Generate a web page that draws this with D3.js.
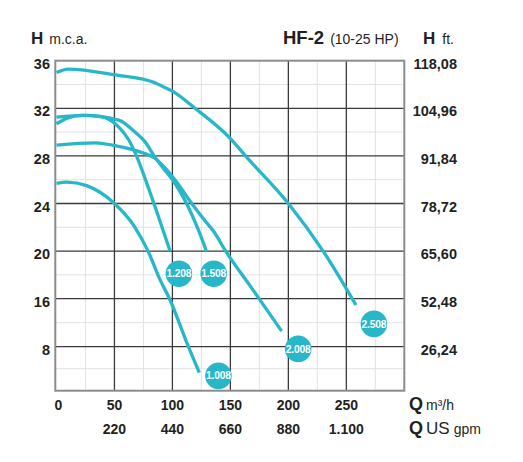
<!DOCTYPE html>
<html>
<head>
<meta charset="utf-8">
<script src="https://cdn.jsdelivr.net/npm/d3@7"></script>
<style>
  html, body { margin: 0; padding: 0; background: #fff; }
  svg { display: block; }
  text { font-family: "Liberation Sans", Arial, Helvetica, sans-serif; fill: #231f20; }
</style>
</head>
<body>
<svg id="chart" width="523" height="462"></svg>
<script>
// ---- data (Q in m3/h, H in m.c.a.) ----
const models = ["1.008", "1.208", "1.508", "2.008", "2.508"];
const q1008 = [0, 9, 26, 50, 67, 79, 89.3, 97.5, 113.8, 123.2];
const h1008 = [25.7, 25.8, 25.5, 24.0, 22.1, 20.0, 17.6, 16.0, 8.0, 3.3];
const q1208 = [0, 10, 22, 38, 54, 62, 69, 79, 89, 98];
const h1208 = [30.7, 31.2, 31.4, 31.3, 30.4, 29.4, 28.0, 25.4, 22.6, 20.0];
const q1508 = [0, 24.8, 53.6, 67.7, 76.3, 84.9, 93.5, 102.2, 113.7, 122.3, 129.5];
const h1508 = [31.25, 31.4, 31.0, 30.0, 29.2, 27.9, 26.8, 25.7, 23.7, 21.8, 19.95];
const q2008 = [0, 33.2, 53.6, 70, 84.9, 102.2, 113.7, 125.2, 136.7, 145.3, 166.9, 194.2];
const h2008 = [28.9, 29.1, 28.8, 28.4, 27.8, 26.0, 24.4, 22.9, 21.5, 20.1, 17.1, 10.6];
const q2508 = [0, 10.2, 51, 83.5, 89, 100.7, 119.5, 149.6, 164, 200, 230, 258.3];
const h2508 = [35.0, 35.3, 34.8, 34.2, 33.95, 33.4, 32.0, 29.5, 27.9, 24.0, 20.0, 14.95];
const labelQ = [139.7, 105.6, 135.6, 208.5, 273.8];
const labelH = [2.7, 18.1, 18.1, 7.6, 11.8];

const xTicks = [0, 50, 100, 150, 200, 250];
const xMinor = [25, 75, 125, 175, 225, 275];
const gpmTicks = [220, 440, 660, 880, 1100];
const gpmLabels = ["220", "440", "660", "880", "1.100"];
const yTicks = [36, 32, 28, 24, 20, 16, 8];
const yMinor = [34, 30, 26, 22, 18, 12, 4];
const ftLabels = ["118,08", "104,96", "91,84", "78,72", "65,60", "52,48", "26,24"];

const seriesQ = [q1008, q1208, q1508, q2008, q2508];
const seriesH = [h1008, h1208, h1508, h2008, h2508];

// ---- layout ----
const L = 55.3, R = 404.3, T = 60.7, B = 390.7;
const color = "#27b7c9";
const svg = d3.select("#chart");

const x = d3.scaleLinear().domain([-1, 300]).range([L, R]);
const y = d3.scaleLinear().domain([0, 8, 16, 36]).range([B, 346.7, 298.7, T]);

// minor grid
const g = svg.append("g");
g.selectAll("line.vm").data(xMinor).join("line")
  .attr("x1", d => x(d)).attr("x2", d => x(d)).attr("y1", T).attr("y2", B)
  .attr("stroke", "#e2e2e2").attr("stroke-width", 1);
g.selectAll("line.hm").data(yMinor).join("line")
  .attr("y1", d => y(d)).attr("y2", d => y(d)).attr("x1", L).attr("x2", R)
  .attr("stroke", "#e2e2e2").attr("stroke-width", 1);
// major grid
g.selectAll("line.vM").data(xTicks.slice(1)).join("line")
  .attr("x1", d => x(d)).attr("x2", d => x(d)).attr("y1", T).attr("y2", B)
  .attr("stroke", "#3a3a3a").attr("stroke-width", 1.3);
g.selectAll("line.hM").data(yTicks.slice(1)).join("line")
  .attr("y1", d => y(d)).attr("y2", d => y(d)).attr("x1", L).attr("x2", R)
  .attr("stroke", "#3a3a3a").attr("stroke-width", 1.3);
// border
svg.append("rect").attr("x", L).attr("y", T).attr("width", R - L).attr("height", B - T)
  .attr("fill", "none").attr("stroke", "#8c8c8c").attr("stroke-width", 2);

// curves
const line = d3.line().curve(d3.curveMonotoneX)
  .x(d => x(d[0])).y(d => y(d[1]));
seriesQ.forEach((qs, i) => {
  const pts = qs.map((q, j) => [q, seriesH[i][j]]);
  svg.append("path").datum(pts).attr("d", line)
    .attr("fill", "none").attr("stroke", color).attr("stroke-width", 3.3);
});

// model badges
models.forEach((m, i) => {
  const cx = x(labelQ[i]), cy = y(labelH[i]);
  svg.append("circle").attr("cx", cx).attr("cy", cy).attr("r", 13.3).attr("fill", color);
  svg.append("text").attr("x", cx).attr("y", cy + 3.6).attr("text-anchor", "middle")
    .attr("font-size", 10.3).attr("font-weight", "bold").style("fill", "#fff")
    .attr("letter-spacing", -0.2).text(m);
});

// left axis labels
svg.selectAll("text.yl").data(yTicks).join("text")
  .attr("x", 50).attr("y", d => y(d) + 8).attr("text-anchor", "end")
  .attr("font-size", 14.5).attr("font-weight", "bold").text(d => d);
// right axis labels
svg.selectAll("text.yr").data(yTicks).join("text")
  .attr("x", 457).attr("y", d => y(d) + 8).attr("text-anchor", "end")
  .attr("font-size", 14.5).attr("font-weight", "bold").text((d, i) => ftLabels[i]);
// bottom labels
svg.selectAll("text.xl").data(xTicks).join("text")
  .attr("x", d => x(d) + (d === 0 ? 2 : 0)).attr("y", 410).attr("text-anchor", "middle")
  .attr("font-size", 14).attr("font-weight", "bold").text(d => d);
svg.selectAll("text.gl").data(gpmTicks).join("text")
  .attr("x", d => x(d / 4.4)).attr("y", 433.5).attr("text-anchor", "middle")
  .attr("font-size", 14).attr("font-weight", "bold").text((d, i) => gpmLabels[i]);

// unit labels
const q1 = svg.append("text").attr("x", 409).attr("y", 410);
q1.append("tspan").attr("font-size", 18).attr("font-weight", "bold").text("Q");
q1.append("tspan").attr("font-size", 14).attr("dx", 3).text("m³/h");
const q2 = svg.append("text").attr("x", 409).attr("y", 433.5);
q2.append("tspan").attr("font-size", 18).attr("font-weight", "bold").text("Q");
q2.append("tspan").attr("font-size", 17).attr("dx", 3).text("US");
q2.append("tspan").attr("font-size", 14).attr("dx", 4).text("gpm");

// header
const h1 = svg.append("text").attr("x", 31).attr("y", 44);
h1.append("tspan").attr("font-size", 17).attr("font-weight", "bold").text("H");
h1.append("tspan").attr("font-size", 14).attr("dx", 6).text("m.c.a.");
const h2 = svg.append("text").attr("x", 283).attr("y", 44);
h2.append("tspan").attr("font-size", 18.5).attr("font-weight", "bold").text("HF-2");
h2.append("tspan").attr("font-size", 14).attr("dx", 6).text("(10-25 HP)");
const h3 = svg.append("text").attr("x", 423).attr("y", 44);
h3.append("tspan").attr("font-size", 17).attr("font-weight", "bold").text("H");
h3.append("tspan").attr("font-size", 14).attr("dx", 7).text("ft.");
</script>
</body>
</html>
